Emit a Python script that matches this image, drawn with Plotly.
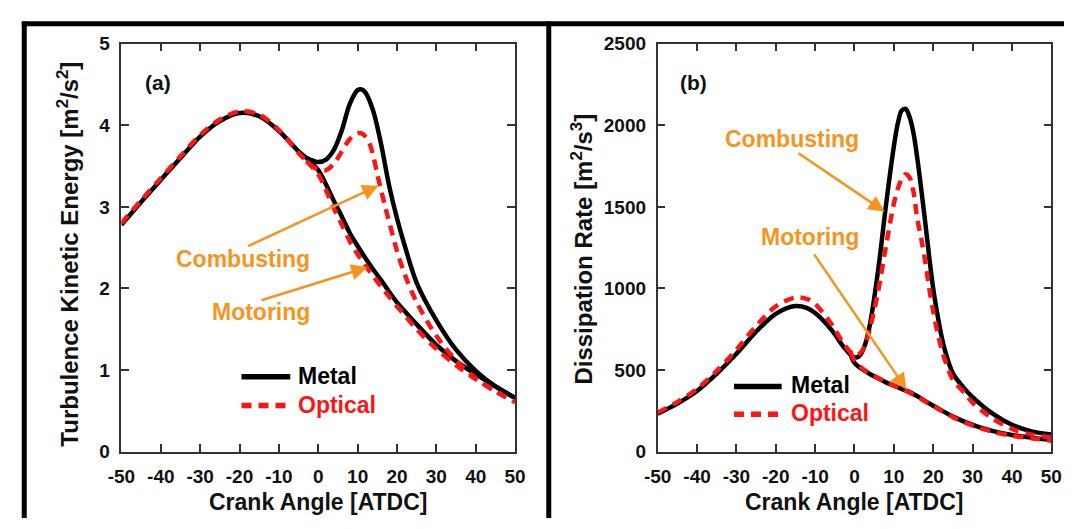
import plotly.graph_objects as go

# ---------------- Panel (a): turbulence kinetic energy [m^2/s^2] ----------------
ca_a_metal_comb = [-50, -45, -40, -35, -30, -25, -20, -15, -10, -5, -3, -1, 0, 2, 4, 6, 8, 10, 11, 12,
                   14, 16, 18, 20, 22, 25, 30, 35, 40, 45, 50]
tke_metal_comb = [2.78, 3.06, 3.33, 3.60, 3.86, 4.05, 4.15, 4.11, 3.93, 3.68, 3.60, 3.56, 3.55, 3.58, 3.70,
                  3.94, 4.26, 4.43, 4.44, 4.40, 4.17, 3.76, 3.26, 2.86, 2.52, 2.07, 1.61, 1.25, 0.99, 0.80, 0.66]

ca_a_metal_mot = [-3, 0, 2, 4, 6, 8, 10, 12, 14, 16, 18, 20, 22, 25, 30, 35, 40, 45, 50]
tke_metal_mot = [3.60, 3.45, 3.27, 3.07, 2.88, 2.68, 2.52, 2.37, 2.23, 2.10, 1.96, 1.83, 1.72, 1.56, 1.31,
                 1.11, 0.95, 0.80, 0.66]

ca_a_opt_comb = [-50, -45, -40, -35, -30, -25, -20, -15, -10, -5, -3, -1, 1, 2, 4, 6, 8, 10, 11, 12, 13,
                 14, 15, 16, 17, 18, 20, 22, 25, 30, 35, 40, 45, 50]
tke_opt_comb = [2.80, 3.08, 3.35, 3.62, 3.88, 4.07, 4.17, 4.13, 3.94, 3.66, 3.56, 3.48, 3.45, 3.45, 3.53,
                3.68, 3.83, 3.90, 3.90, 3.86, 3.78, 3.62, 3.40, 3.20, 3.00, 2.82, 2.46, 2.17, 1.83, 1.42,
                1.12, 0.90, 0.74, 0.61]

ca_a_opt_mot = [-3, 0, 2, 4, 6, 8, 10, 12, 14, 16, 18, 20, 22, 25, 30, 35, 40, 45, 50]
tke_opt_mot = [3.56, 3.40, 3.20, 2.98, 2.78, 2.58, 2.42, 2.28, 2.15, 2.02, 1.90, 1.78, 1.67, 1.50, 1.26,
               1.06, 0.89, 0.74, 0.61]

# ---------------- Panel (b): dissipation rate [m^2/s^3] ----------------
ca_b_metal_comb = [-50, -45, -40, -35, -30, -25, -20, -15, -12, -10, -7, -5, -3, -1, 0, 1, 2, 3, 4, 6, 8,
                   10, 11, 12, 13, 14, 15, 16, 17, 18, 19, 20, 21, 22, 23, 25, 28, 30, 35, 40, 45, 50]
eps_metal_comb = [233, 295, 372, 478, 600, 735, 845, 893, 880, 850, 780, 720, 650, 595, 578, 582, 615,
                  680, 790, 1110, 1510, 1870, 2010, 2090, 2100, 2050, 1950, 1790, 1600, 1400, 1190, 1000,
                  850, 720, 620, 480, 385, 335, 235, 165, 125, 105]

ca_b_metal_mot = [-1, 0, 2, 4, 6, 8, 10, 12, 14, 16, 18, 20, 22, 25, 30, 35, 40, 45, 50]
eps_metal_mot = [595, 545, 505, 475, 450, 425, 405, 385, 365, 340, 310, 282, 255, 215, 165, 128, 103, 86, 72]

ca_b_opt_comb = [-50, -45, -40, -35, -30, -25, -20, -15, -12, -10, -7, -5, -3, -1, 0, 1, 2, 3, 4, 6, 8,
                 10, 11, 12, 13, 14, 15, 16, 17, 18, 19, 20, 21, 22, 23, 25, 28, 30, 35, 40, 45, 50]
eps_opt_comb = [240, 305, 385, 495, 625, 770, 890, 945, 935, 905, 820, 750, 670, 610, 592, 597, 620, 675,
                760, 980, 1260, 1520, 1610, 1670, 1700, 1680, 1590, 1420, 1300, 1160, 1000, 860, 740, 640,
                560, 440, 360, 300, 205, 140, 105, 88]

ca_b_opt_mot = [-1, 0, 2, 4, 6, 8, 10, 12, 14, 16, 18, 20, 22, 25, 30, 35, 40, 45, 50]
eps_opt_mot = [610, 560, 510, 478, 452, 428, 405, 385, 362, 338, 308, 280, 252, 212, 160, 123, 98, 82, 68]

x_ticks = [-50, -40, -30, -20, -10, 0, 10, 20, 30, 40, 50]
y_ticks_a = [0, 1, 2, 3, 4, 5]
y_ticks_b = [0, 500, 1000, 1500, 2000, 2500]

W, H = 1075, 529
FONT = "Liberation Sans, Arial, sans-serif"
BLACK = "#000000"
RED = "#FF1414"
ORANGE = "#F7941D"
DASH = "10px,7px"


def px(x):
    """pixel column -> paper x"""
    return x / W


def py(y):
    """pixel row -> paper y"""
    return 1 - y / H


def bold(v):
    return "<b>%s</b>" % v


fig = go.Figure()


def add_curve(x, y, xa, ya, color, dash):
    fig.add_trace(go.Scatter(
        x=x, y=y, xaxis=xa, yaxis=ya, mode="lines",
        line=dict(color=color, width=4.5, dash=dash, shape="spline", smoothing=0.9),
        showlegend=False, hoverinfo="skip"))


# solid metal curves first, dashed optical on top
add_curve(ca_a_metal_comb, tke_metal_comb, "x", "y", BLACK, "solid")
add_curve(ca_a_metal_mot, tke_metal_mot, "x", "y", BLACK, "solid")
add_curve(ca_a_opt_comb, tke_opt_comb, "x", "y", RED, DASH)
add_curve(ca_a_opt_mot, tke_opt_mot, "x", "y", RED, DASH)

add_curve(ca_b_metal_comb, eps_metal_comb, "x2", "y2", BLACK, "solid")
add_curve(ca_b_metal_mot, eps_metal_mot, "x2", "y2", BLACK, "solid")
add_curve(ca_b_opt_comb, eps_opt_comb, "x2", "y2", RED, DASH)
add_curve(ca_b_opt_mot, eps_opt_mot, "x2", "y2", RED, DASH)

tickfont = dict(family=FONT, size=19, color="#111")
axis_common = dict(
    showline=True, linewidth=1.6, linecolor="#333", mirror="ticks",
    ticks="inside", ticklen=8, tickwidth=1.6, tickcolor="#333",
    showgrid=False, zeroline=False, tickfont=tickfont, tickmode="array",
)
ydom = [py(460), py(35)]
xt = dict(tickvals=x_ticks, ticktext=[bold(v) for v in x_ticks], range=[-50, 50], ticklabelstandoff=7)

fig.update_layout(
    width=W, height=H,
    margin=dict(l=0, r=0, t=0, b=0),
    paper_bgcolor="white", plot_bgcolor="white",
    showlegend=False,
    xaxis=dict(domain=[px(110), px(513)], anchor="y", **xt, **axis_common),
    yaxis=dict(domain=ydom, range=[0, 5], tickvals=y_ticks_a, ticktext=[bold(v) for v in y_ticks_a],
               ticklabelstandoff=6, anchor="x", **axis_common),
    xaxis2=dict(domain=[px(659), px(1062)], anchor="y2", **xt, **axis_common),
    yaxis2=dict(domain=ydom, range=[0, 2500], tickvals=y_ticks_b, ticktext=[bold(v) for v in y_ticks_b],
                ticklabelstandoff=6, anchor="x2", **axis_common),
)

# outer frame of the figure and the panel divider
frame = dict(color="black", width=5)
fig.add_shape(type="line", xref="paper", yref="paper", x0=px(10.5), x1=px(10.5), y0=py(12), y1=0, line=frame)
fig.add_shape(type="line", xref="paper", yref="paper", x0=px(8), x1=1, y0=py(14.3), y1=py(14.3), line=frame)
fig.add_shape(type="line", xref="paper", yref="paper", x0=px(547.5), x1=px(547.5), y0=py(12), y1=0, line=frame)

annotations = []


def text(x, y, s, size, color="#111", angle=0, xanchor="center"):
    annotations.append(dict(
        xref="paper", yref="paper", x=px(x), y=py(y), text=bold(s), showarrow=False,
        xanchor=xanchor, yanchor="middle", textangle=angle,
        font=dict(family=FONT, size=size, color=color)))


def arrow(xa, ya, x_tail, y_tail, x_head, y_head):
    annotations.append(dict(
        xref=xa, yref=ya, axref=xa, ayref=ya, x=x_head, y=y_head, ax=x_tail, ay=y_tail,
        text="", showarrow=True, arrowhead=2, arrowsize=1.3, arrowwidth=2.5,
        arrowcolor=ORANGE, standoff=0, startstandoff=0))


# axis titles
text(311.5, 512, "Crank Angle [ATDC]", 23)
text(860.5, 512, "Crank Angle [ATDC]", 23)
text(55, 254, "Turbulence Kinetic Energy [m<sup>2</sup>/s<sup>2</sup>]", 24, angle=-90)
text(582, 249, "Dissipation Rate [m<sup>2</sup>/s<sup>3</sup>]", 24, angle=-90)

# panel labels
text(147, 75, "(a)", 21)
text(696, 75, "(b)", 21)

# panel (a) callouts
text(234.5, 259, "Combusting", 23, color=ORANGE)
text(253, 314, "Motoring", 23, color=ORANGE)
arrow("x", "y", -18.2, 2.51, 15.3, 3.26)
arrow("x", "y", -14.8, 1.85, 12.5, 2.26)

# panel (b) callouts
text(796.5, 134, "Combusting", 23, color=ORANGE)
text(815, 236, "Motoring", 23, color=ORANGE)
arrow("x2", "y2", -14.6, 1835, 7.7, 1470)
arrow("x2", "y2", -10.5, 1218, 13.2, 382)

# in-plot legends
leg = [("x", "y", -19.5, -7.1, 0.92, 0.565),
       ("x2", "y2", -30.6, -18.5, 400, 229)]
for xa, ya, x0, x1, y_metal, y_opt in leg:
    fig.add_shape(type="line", xref=xa, yref=ya, x0=x0, x1=x1, y0=y_metal, y1=y_metal,
                  line=dict(color=BLACK, width=5.5))
    fig.add_shape(type="line", xref=xa, yref=ya, x0=x0, x1=x1, y0=y_opt, y1=y_opt,
                  line=dict(color=RED, width=5.5, dash=DASH))

text(289, 381, "Metal", 23, color="#000", xanchor="left")
text(289, 411, "Optical", 23, color=RED, xanchor="left")
text(793, 391, "Metal", 23, color="#000", xanchor="left")
text(793, 420, "Optical", 23, color=RED, xanchor="left")

fig.update_layout(annotations=annotations)

fig.write_html("out.html")
